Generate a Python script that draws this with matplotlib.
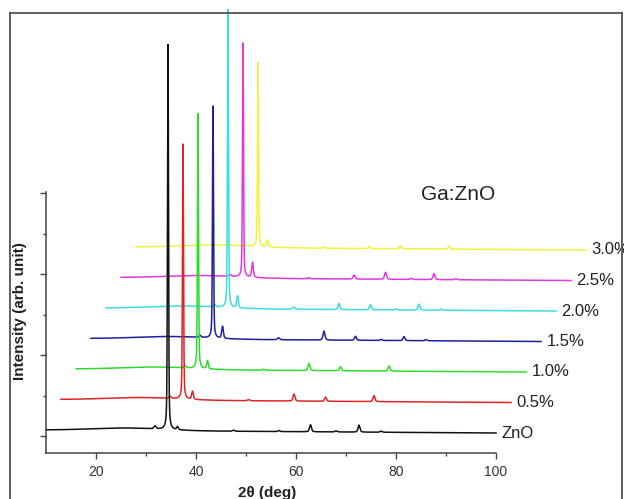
import numpy as np
import matplotlib
matplotlib.use("Agg")
import matplotlib.pyplot as plt
from matplotlib.lines import Line2D

plt.rcParams['font.family'] = ['Liberation Sans', 'DejaVu Sans']

# samples, bottom to top
samples = ['ZnO', '0.5%', '1.0%', '1.5%', '2.0%', '2.5%', '3.0%']
colors = ['#111111', '#e02424', '#2edc2e', '#1e1e9e', '#3adede', '#e038e0', '#f2f23c']

# ZnO reflections (deg) and fwhm
peak_pos = [31.8, 34.4, 36.3, 47.5, 56.6, 62.9, 68.0, 72.6, 77.0]
peak_fwhm = [0.5, 0.24, 0.4, 0.5, 0.45, 0.45, 0.5, 0.45, 0.5]

# peak heights for each sample (arb. unit)
heights = [
    [3, 385, 3, 1, 1, 7, 1, 7, 1],    # ZnO
    [2, 255, 8, 1, 7, 4, 0, 6, 0],    # 0.5%
    [2, 255, 8, 1, 7, 4, 0, 5, 0],    # 1.0%
    [2, 232, 12, 2, 9, 4, 1, 4, 1],   # 1.5%
    [2, 298, 12, 2, 6, 5, 1, 6, 1],   # 2.0%
    [2, 234, 15, 1, 4, 7, 1, 6, 1],   # 2.5%
    [1, 184, 7, 1, 2, 3, 0, 3, 0],    # 3.0%
]

# glass hump from substrate + sloping background
hump_pos, hump_width, hump_amp = 26.0, 7.0, 2.5
bg_left = 3.0
eta = 0.4   # lorentzian fraction of the pseudo-voigt

two_theta = np.arange(10, 100.001, 0.02)

x_step = 3.0     # horizontal stagger, deg
y_step = 30.5    # vertical stagger
y0 = 20.0


def pattern(h):
    y = bg_left * (100 - two_theta) / 90
    y += hump_amp * np.exp(-0.5 * ((two_theta - hump_pos) / hump_width) ** 2)
    for p, w, a in zip(peak_pos, peak_fwhm, h):
        u = (two_theta - p) / (w / 2)
        y += a * (eta / (1 + u ** 2) + (1 - eta) * np.exp(-np.log(2) * u ** 2))
    return y


fig = plt.figure(figsize=(6.24, 4.99), dpi=100)
ax = fig.add_axes([46 / 624, 46 / 499, 450 / 624, 440 / 499])

# draw top curve first so the lower ones sit on top
for i in reversed(range(len(samples))):
    xs = two_theta + i * x_step
    ys = pattern(heights[i]) + y0 + i * y_step
    ax.plot(xs, ys, color=colors[i], lw=1.1, clip_on=False)
    ax.text(100 + i * x_step + 1.1, y0 + i * y_step, samples[i],
            fontsize=12, color='#222222', va='center', ha='left',
            clip_on=False)

ax.set_xlim(10, 100)
ax.set_ylim(0, 440)
ax.set_xticks([20, 40, 60, 80, 100])
ax.set_xticks([30, 50, 70, 90], minor=True)
ax.set_yticks([17, 98, 179, 260])
ax.set_yticks([57.5, 138.5, 219.5], minor=True)
ax.set_yticklabels([])
ax.tick_params(axis='x', direction='out', length=4, width=1, pad=5,
               labelsize=10, labelcolor='#333333', color='#444444')
ax.tick_params(axis='x', which='minor', direction='out', length=2.5, width=1,
               color='#444444')
ax.tick_params(axis='y', direction='out', length=4, width=1, color='#444444')
ax.tick_params(axis='y', which='minor', direction='out', length=2.5, width=1,
               color='#444444')

for s in ['top', 'right']:
    ax.spines[s].set_visible(False)
ax.spines['left'].set_bounds(0, 261)
for s in ['left', 'bottom']:
    ax.spines[s].set_color('#444444')
    ax.spines[s].set_linewidth(1.1)
ax.patch.set_visible(False)

fig.text(20 / 624, 1 - 311 / 499, 'Intensity (arb. unit)', rotation=90,
         ha='center', va='center', fontsize=11, fontweight='bold',
         color='#222222')
fig.text(267 / 624, 1 - 493 / 499, '2\u03b8 (deg)', ha='center', va='center',
         fontsize=11, fontweight='bold', color='#222222')
fig.text(458 / 624, 1 - 194 / 499, 'Ga:ZnO', ha='center', va='center',
         fontsize=15, color='#222222')

# outer frame
fl, fr, ft = 10 / 624, 622 / 624, 1 - 13 / 499
for xd, yd in [([fl, fl], [-0.01, ft]), ([fl, fr], [ft, ft]), ([fr, fr], [ft, -0.01])]:
    fig.add_artist(Line2D(xd, yd, color='#444444', lw=1.2,
                          transform=fig.transFigure))

fig.savefig('out.png', dpi=100)
